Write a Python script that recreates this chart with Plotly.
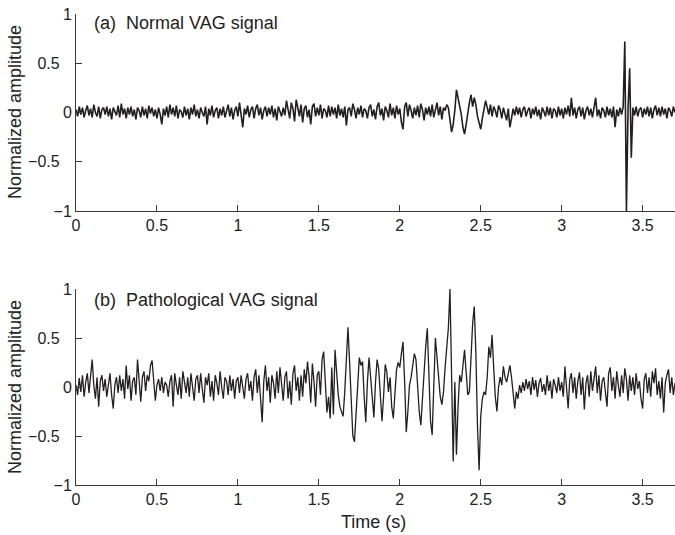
import numpy as np
import plotly.graph_objects as go
from plotly.subplots import make_subplots

dt = 0.01

normal_vag = [
    0.03, -0.04, 0.06, -0.02, 0.05, -0.05, 0.02, 0.07, -0.03, 0.04,
    -0.05, 0.08, 0.00, -0.04, 0.06, -0.06, 0.03, 0.05, -0.02, 0.06,
    -0.04, 0.04, -0.07, 0.05, 0.01, -0.03, 0.07, -0.05, 0.09, -0.02,
    0.04, -0.06, 0.05, -0.02, 0.06, -0.04, 0.03, -0.07, 0.05, 0.02,
    -0.05, 0.06, -0.03, 0.04, -0.06, 0.07, -0.01, 0.05, -0.04, 0.03,
    -0.06, 0.05, -0.02, -0.12, 0.04, -0.03, 0.06, -0.05, 0.08, -0.02,
    0.05, -0.04, 0.07, -0.06, 0.03, 0.01, -0.05, 0.06, -0.03, 0.04,
    -0.07, 0.05, -0.02, 0.08, -0.04, 0.03, -0.06, 0.05, 0.00, -0.04,
    0.06, -0.12, 0.04, -0.03, 0.07, -0.05, 0.02, 0.05, -0.06, 0.04,
    -0.03, 0.06, -0.05, 0.03, 0.08, -0.04, 0.05, -0.07, 0.02, 0.06,
    -0.04, 0.10, -0.06, -0.15, 0.04, -0.02, 0.07, -0.05, 0.03, 0.06,
    -0.06, 0.04, 0.08, -0.03, 0.05, -0.07, 0.02, 0.06, -0.04, 0.05,
    -0.02, 0.07, -0.05, 0.04, -0.08, 0.06, 0.01, -0.04, 0.05, -0.03,
    0.12, 0.02, -0.06, 0.10, 0.04, -0.09, 0.13, 0.05, -0.04, 0.08,
    -0.10, 0.04, 0.07, -0.05, 0.03, -0.12, 0.06, 0.09, -0.04, 0.05,
    -0.03, 0.08, -0.06, 0.04, 0.02, -0.05, 0.07, -0.04, 0.06, -0.02,
    0.05, -0.06, 0.08, -0.03, 0.04, -0.05, 0.06, -0.13, 0.03, 0.05,
    -0.04, 0.09, 0.03, -0.06, 0.05, -0.02, 0.07, -0.05, 0.04, 0.02,
    -0.06, 0.05, 0.08, -0.04, 0.03, -0.07, 0.06, 0.10, -0.03, 0.04,
    -0.08, 0.06, 0.02, -0.05, 0.09, -0.03, 0.05, -0.06, 0.07, -0.02,
    0.04, -0.10, -0.17, 0.06, 0.10, -0.04, 0.08, 0.02, -0.06, 0.05,
    -0.03, 0.07, -0.05, 0.09, 0.03, -0.08, 0.05, -0.02, 0.06, -0.04,
    0.08, -0.05, 0.04, 0.10, -0.03, 0.06, -0.07, 0.05, 0.02, 0.08,
    0.05, -0.06, -0.20, -0.12, 0.02, 0.23, 0.15, 0.08, -0.02, -0.15,
    -0.22, -0.12, 0.02, 0.10, 0.18, 0.06, 0.15, 0.08, -0.04, -0.10,
    -0.17, -0.06, 0.04, 0.12, 0.05, -0.02, 0.08, -0.04, 0.06, 0.02,
    -0.05, 0.07, 0.03, -0.06, 0.05, -0.03, -0.08, 0.04, -0.15, -0.06,
    0.04, -0.03, 0.06, -0.02, 0.05, -0.05, 0.03, 0.06, -0.04, 0.02,
    0.05, -0.06, 0.04, -0.02, 0.06, -0.04, 0.03, -0.07, 0.05, 0.01,
    -0.04, 0.06, -0.03, 0.05, -0.06, 0.04, 0.02, -0.05, 0.06, -0.03,
    0.04, -0.06, 0.05, -0.02, 0.07, -0.04, 0.15, -0.03, 0.05, -0.06,
    0.03, 0.06, -0.04, 0.05, -0.07, 0.02, 0.06, -0.03, 0.04, -0.05,
    0.06, 0.15, -0.04, 0.03, -0.06, 0.05, 0.02, -0.05, 0.06, -0.03,
    0.04, -0.05, 0.06, -0.15, 0.03, -0.04, 0.05, -0.02, 0.06, 0.72,
    -1.00, 0.04, 0.45, -0.46, 0.05, -0.03, 0.06, -0.04, 0.03, 0.05,
    -0.05, 0.04, -0.02, 0.06, -0.04, 0.05, -0.06, 0.03, 0.07, -0.03,
    0.05, -0.04, 0.06, -0.02, 0.04, -0.06, 0.05, 0.02, -0.04, 0.06,
    0.00,
]

patho_vag = [
    0.02, -0.08, 0.09, -0.05, 0.12, -0.10, 0.05, 0.14, -0.06, 0.10,
    0.28, 0.02, -0.12, 0.10, -0.20, 0.06, 0.12, -0.04, 0.08, -0.10,
    0.05, 0.14, -0.08, -0.22, 0.02, 0.10, -0.06, 0.12, -0.04, 0.08,
    -0.12, 0.22, -0.02, 0.12, -0.14, 0.06, 0.10, -0.08, 0.28, 0.04,
    -0.15, 0.10, 0.16, -0.04, 0.12, 0.06, 0.22, 0.27, 0.04, -0.14,
    0.02, 0.08, -0.04, 0.10, -0.06, 0.05, 0.02, -0.10, 0.06, 0.12,
    -0.20, 0.14, 0.02, -0.08, 0.10, -0.12, 0.16, 0.04, -0.06, 0.10,
    -0.10, 0.14, 0.00, -0.14, 0.08, 0.12, -0.06, 0.14, -0.02, -0.16,
    0.10, 0.02, 0.14, -0.10, 0.06, -0.14, 0.12, 0.04, -0.08, 0.16,
    0.00, -0.12, 0.10, 0.06, -0.08, 0.12, -0.04, 0.08, -0.12, 0.06,
    0.10, -0.06, 0.12, -0.02, -0.12, 0.08, 0.14, -0.04, 0.06, -0.14,
    0.10, 0.18, -0.06, 0.12, -0.10, -0.36, 0.06, 0.22, -0.04, 0.10,
    -0.16, 0.12, 0.04, -0.12, 0.16, -0.06, 0.20, 0.02, -0.14, 0.10,
    0.16, -0.12, 0.06, -0.18, 0.14, 0.22, -0.04, 0.10, -0.14, 0.12,
    -0.10, 0.18, 0.04, 0.26, 0.10, -0.16, 0.24, 0.06, -0.20, 0.12,
    0.16, -0.08, 0.28, 0.36, 0.02, -0.26, -0.10, -0.32, 0.20, -0.28,
    0.38, 0.15, -0.08, -0.20, -0.25, -0.30, -0.05, 0.35, 0.61, 0.25,
    -0.15, -0.50, -0.56, -0.25, 0.05, 0.30, 0.22, 0.26, -0.10, -0.36,
    0.05, 0.30, 0.10, -0.15, -0.31, 0.05, 0.28, 0.18, -0.05, -0.35,
    -0.10, 0.23, 0.15, -0.05, 0.10, -0.20, -0.32, -0.05, 0.18, 0.25,
    0.20, 0.34, 0.46, 0.05, -0.46, -0.25, 0.02, 0.10, 0.20, 0.34,
    0.28, 0.00, -0.25, -0.39, -0.10, 0.20, 0.41, 0.60, 0.15, -0.35,
    -0.49, 0.00, 0.50, 0.30, 0.05, -0.10, -0.18, -0.05, 0.20, 0.38,
    0.60, 1.00, 0.20, -0.76, 0.05, -0.69, -0.20, 0.12, 0.05, 0.25,
    0.38, 0.15, -0.08, -0.05, 0.30, 0.65, 0.82, 0.35, -0.40, -0.85,
    -0.30, -0.12, -0.05, -0.08, 0.10, 0.41, 0.30, 0.53, 0.20, -0.10,
    -0.25, 0.00, 0.10, 0.02, 0.21, 0.10, 0.05, 0.15, 0.22, 0.10,
    -0.10, -0.22, -0.05, -0.12, 0.02, -0.06, 0.05, -0.04, 0.08, -0.02,
    0.06, -0.08, 0.10, -0.03, 0.07, -0.10, 0.04, 0.09, -0.05, 0.03,
    -0.08, 0.12, -0.04, 0.06, -0.12, 0.08, 0.02, -0.06, 0.10, -0.04,
    0.05, -0.10, 0.21, -0.05, -0.22, 0.08, 0.14, -0.06, 0.10, -0.12,
    0.06, 0.15, -0.08, 0.10, -0.23, 0.04, 0.12, -0.10, 0.16, -0.04,
    0.08, 0.21, -0.06, 0.12, -0.14, 0.06, 0.10, -0.08, -0.20, 0.14,
    0.20, -0.04, 0.10, -0.12, 0.16, 0.02, -0.10, 0.12, -0.06, 0.19,
    0.08, -0.14, 0.12, -0.04, 0.10, -0.08, 0.14, -0.02, 0.06, -0.12,
    -0.22, 0.08, 0.14, -0.06, 0.10, -0.10, 0.16, 0.04, 0.19, -0.08,
    0.06, -0.12, 0.10, -0.26, 0.04, 0.12, 0.18, -0.06, 0.10, -0.08,
    0.04,
]

time_s = np.round(np.arange(len(normal_vag)) * dt, 2)

x_ticks = [0, 0.5, 1, 1.5, 2, 2.5, 3, 3.5]
x_ticktext = ["0", "0.5", "1", "1.5", "2", "2.5", "3", "3.5"]
y_ticks = [-1, -0.5, 0, 0.5, 1]
y_ticktext = ["\u22121", "\u22120.5\u2007\u2009", "0", "0.5\u2007\u2009", "1"]

panel_labels = ["(a)\u00a0 Normal VAG signal", "(b)\u00a0 Pathological VAG signal"]

FONT = "Liberation Sans, Arial, Helvetica, sans-serif"
INK = "#231f20"
AXIS = "#3a3a3a"
W, H = 675, 535

fig = make_subplots(rows=2, cols=1)
fig.add_trace(go.Scatter(x=time_s, y=normal_vag, mode="lines",
                         line=dict(color=INK, width=1.6)), row=1, col=1)
fig.add_trace(go.Scatter(x=time_s, y=patho_vag, mode="lines",
                         line=dict(color=INK, width=1.3)), row=2, col=1)

xdom = [76 / W, 1.0]
ydoms = [[1 - 211 / H, 1 - 14 / H], [1 - 485 / H, 1 - 289 / H]]

ax_common = dict(showgrid=False, zeroline=False, showline=True, linecolor=AXIS,
                 linewidth=1, ticks="inside", ticklen=6, tickcolor=AXIS,
                 automargin=False,
                 tickfont=dict(family=FONT, size=16, color="#222"))

for i in range(2):
    fig.update_xaxes(range=[0, 3.7], domain=xdom, tickvals=x_ticks,
                     ticktext=x_ticktext, row=i + 1, col=1, **ax_common)
    fig.update_yaxes(range=[-1, 1], domain=ydoms[i], tickvals=y_ticks,
                     ticktext=y_ticktext, ticklabelstandoff=0,
                     row=i + 1, col=1, **ax_common)

# axis titles and panel labels
for yc in [112, 387]:
    fig.add_annotation(text="Normalized amplitude", x=15 / W, y=1 - yc / H,
                       xref="paper", yref="paper", textangle=-90, showarrow=False,
                       xanchor="center", yanchor="middle",
                       font=dict(family=FONT, size=18, color="#222"))
for lab, yc in zip(panel_labels, [23, 300]):
    fig.add_annotation(text=lab, x=92 / W, y=1 - yc / H, xref="paper", yref="paper",
                       xanchor="left", yanchor="middle", showarrow=False,
                       font=dict(family=FONT, size=18, color="#222"))
fig.add_annotation(text="Time (s)", x=373 / W, y=1 - 522 / H,
                   xref="paper", yref="paper", showarrow=False,
                   xanchor="center", yanchor="middle",
                   font=dict(family=FONT, size=18, color="#222"))

fig.update_layout(template="none", width=W, height=H,
                  margin=dict(l=0, r=0, t=0, b=0),
                  paper_bgcolor="white", plot_bgcolor="white", showlegend=False)

fig.write_html("out.html", config={"displayModeBar": False},
               post_script="document.body.style.margin='0';document.body.style.overflow='hidden';")
